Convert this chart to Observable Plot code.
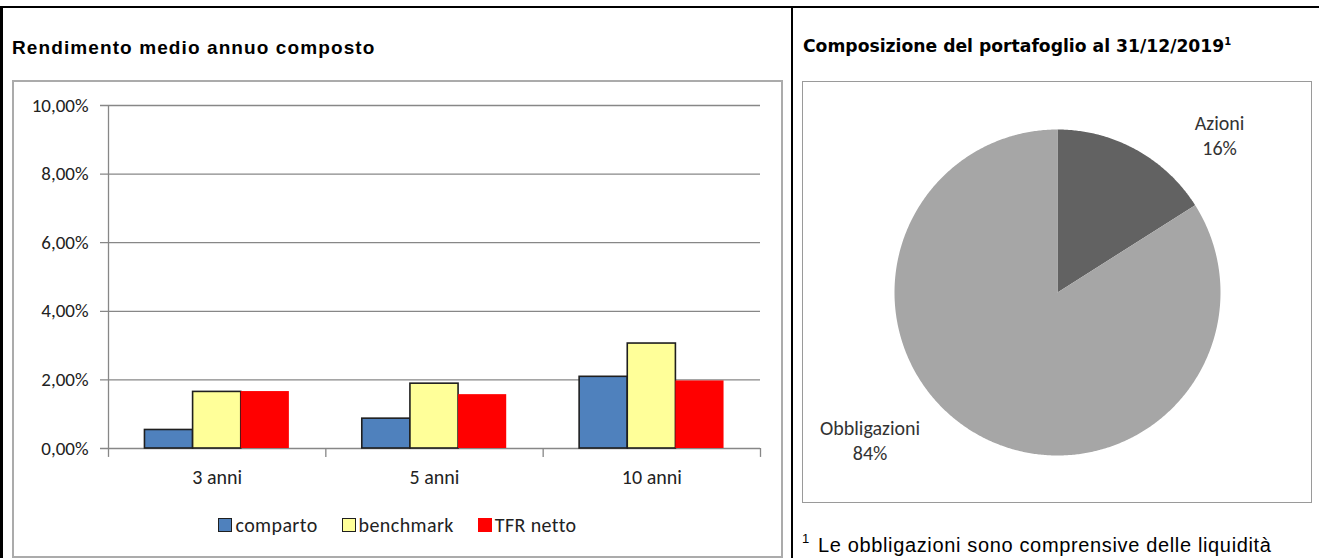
<!DOCTYPE html>
<html><head><meta charset="utf-8">
<script src="https://cdn.jsdelivr.net/npm/d3@7"></script>
<script src="https://cdn.jsdelivr.net/npm/@observablehq/plot@0.6"></script>
<style>
html,body{margin:0;padding:0;background:#fff;}
body{width:1319px;height:558px;overflow:hidden;position:relative;}
.abs{position:absolute;}
.line{position:absolute;background:#000;}
.title1{font-family:"Liberation Sans",Arial,sans-serif;font-weight:bold;font-size:19px;line-height:19px;letter-spacing:1.1px;color:#000;white-space:nowrap;}
.title2{font-family:"DejaVu Sans",Verdana,sans-serif;font-weight:bold;font-size:17.2px;line-height:17px;color:#000;white-space:nowrap;}
.title2 sup{font-size:10px;vertical-align:7px;line-height:0;}
.frame{position:absolute;box-sizing:border-box;border:2px solid #ababab;background:#fff;}
.legend{position:absolute;display:flex;justify-content:center;align-items:center;font-family:Calibri,Carlito,Lato,sans-serif;font-size:20px;letter-spacing:0.4px;color:#222;}
.legend .item{display:flex;align-items:center;margin:0 12px;}
.legend .sw{width:14px;height:14px;box-sizing:border-box;margin-right:3px;}
.foot{font-family:"Liberation Sans",Arial,sans-serif;font-size:20px;line-height:20px;letter-spacing:0.65px;color:#000;white-space:nowrap;}
.foot sup{font-size:13px;vertical-align:9px;line-height:0;margin-right:8px;}
</style></head><body>
<script>
// ---- data ----
const periods = ["3 anni", "5 anni", "10 anni"];
const seriesNames = ["comparto", "benchmark", "TFR netto"];
const comparto = [0.54, 0.87, 2.09];
const benchmark = [1.65, 1.89, 3.06];
const tfrNetto = [1.66, 1.57, 1.97];
const seriesColors = ["#4f81bd", "#ffff99", "#ff0000"];
const seriesOutline = ["#1f1f1f", "#1f1f1f", "none"];
const yTicks = [0, 2, 4, 6, 8, 10];
const assetNames = ["Azioni", "Obbligazioni"];
const assetShares = [16, 84];
const assetColors = ["#626262", "#a6a6a6"];
const leftTitle = "Rendimento medio annuo composto";
const rightTitle = "Composizione del portafoglio al 31/12/2019";
const footnote = "Le obbligazioni sono comprensive delle liquidità";

// ---- layout helpers ----
function el(tag, cls, style, parent) {
  const e = document.createElement(tag);
  if (cls) e.className = cls;
  Object.assign(e.style, style || {});
  (parent || document.body).appendChild(e);
  return e;
}
// table borders
el("div", "line", {left: "0px", top: "6px", width: "1319px", height: "2px"});
el("div", "line", {left: "0px", top: "6px", width: "3px", height: "552px"});
el("div", "line", {left: "791px", top: "6px", width: "2px", height: "552px"});

// titles
const t1 = el("div", "abs title1", {left: "12px", top: "38px"});
t1.textContent = leftTitle;
const t2 = el("div", "abs title2", {left: "803px", top: "38px"});
t2.textContent = rightTitle;
el("sup", "", {}, t2).textContent = "1";

// ---- bar chart ----
el("div", "frame", {left: "12px", top: "80px", width: "771px", height: "478px"});
const seriesValues = [comparto, benchmark, tfrNetto];
const rows = [];
seriesNames.forEach((name, s) => periods.forEach((p, i) => rows.push({series: name, s, i, period: p, value: seriesValues[s][i]})));
const barFrac = 0.2215; // share of a category band taken by one bar
const fmt = d => d.toFixed(2).replace(".", ",") + "%";

const bar = Plot.plot({
  width: 770, height: 420,
  marginLeft: 96, marginRight: 22, marginTop: 25, marginBottom: 52,
  x: {domain: [0, periods.length]},
  y: {domain: [0, 10]},
  style: {fontFamily: "Calibri, Carlito, Lato, sans-serif", fontSize: "19px", color: "#222", background: "transparent", overflow: "visible"},
  marks: [
    Plot.gridY(yTicks, {stroke: "#878787", strokeOpacity: 1, strokeWidth: 1.3, insetLeft: -8}),
    Plot.ruleX([0], {y1: 0, y2: 10, stroke: "#878787", strokeWidth: 1.3}),
    Plot.ruleX(d3.range(periods.length + 1), {y1: -0.26, y2: 0, stroke: "#878787", strokeWidth: 1.3}),
    Plot.axisY(yTicks, {label: null, tickSize: 0, tickPadding: 20, tickFormat: fmt, fontSize: 19, fill: "#222"}),
    Plot.axisX(periods.map((p, i) => i + 0.5), {label: null, tickSize: 0, tickPadding: 21, tickFormat: d => periods[Math.floor(d)], fontSize: 20, fill: "#222"}),
    ...seriesNames.map((name, s) => Plot.rectY(rows.filter(r => r.s === s), {
      x1: r => r.i + 0.5 + (r.s - 1.5) * barFrac,
      x2: r => r.i + 0.5 + (r.s - 0.5) * barFrac,
      y1: 0, y2: "value",
      fill: seriesColors[s], stroke: seriesOutline[s], strokeWidth: 1.6
    }))
  ]
});
bar.style.position = "absolute";
bar.style.left = "12px";
bar.style.top = "80px";
document.body.appendChild(bar);

// legend
const legend = el("div", "legend", {left: "12px", top: "514px", width: "771px", height: "22px"});
seriesNames.forEach((name, s) => {
  const it = el("div", "item", {}, legend);
  el("div", "sw", {background: seriesColors[s], border: seriesOutline[s] === "none" ? "none" : "1.6px solid " + seriesOutline[s]}, it);
  el("span", "", {}, it).textContent = name;
});

// ---- pie chart ----
el("div", "frame", {left: "802px", top: "81px", width: "510px", height: "422px", border: "1.5px solid #9a9a9a"});
const assets = assetNames.map((name, k) => ({name, share: assetShares[k], color: assetColors[k]}));
const arcs = d3.pie().sort(null).value(d => d.share)(assets);
const slicePoints = arcs.map(a => {
  const pts = [{x: 0, y: 0}];
  const n = Math.max(2, Math.ceil((a.endAngle - a.startAngle) / (Math.PI / 360)));
  for (let k = 0; k <= n; k++) {
    const t = a.startAngle + (a.endAngle - a.startAngle) * k / n;
    pts.push({x: Math.sin(t), y: Math.cos(t)});
  }
  return pts;
});
// label anchors (layout, in pie-radius units)
const labelAnchors = [[0.994, 0.967], [-1.15, -0.90]];
const labels = assets.map((d, k) => ({x: labelAnchors[k][0], y: labelAnchors[k][1], text: d.name + "\n" + d.share + "%"}));

const pie = Plot.plot({
  width: 509, height: 421,
  marginLeft: 92, marginRight: 91, marginTop: 48, marginBottom: 47,
  x: {domain: [-1, 1], axis: null},
  y: {domain: [-1, 1], axis: null},
  style: {fontFamily: "Calibri, Carlito, Lato, sans-serif", fontSize: "20px", color: "#333", background: "transparent", overflow: "visible"},
  marks: [
    ...slicePoints.map((pts, k) => Plot.line(pts, {x: "x", y: "y", fill: assets[k].color, stroke: "none", curve: "linear"})),
    Plot.text(labels, {x: "x", y: "y", text: "text", fontSize: 20, lineHeight: 1.25, fill: "#333"})
  ]
});
pie.style.position = "absolute";
pie.style.left = "802px";
pie.style.top = "81px";
document.body.appendChild(pie);

// footnote
const fn = el("div", "abs foot", {left: "802px", top: "535px"});
el("sup", "", {}, fn).textContent = "1";
fn.appendChild(document.createTextNode(footnote));
</script>
</body></html>
